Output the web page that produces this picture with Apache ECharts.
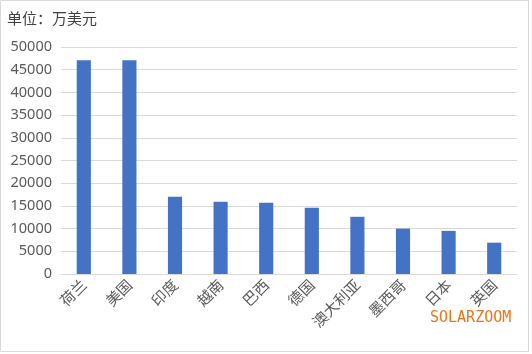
<!DOCTYPE html>
<html><head><meta charset="utf-8">
<script src="https://cdn.jsdelivr.net/npm/echarts@6/dist/echarts.min.js"></script>
<style>html,body{margin:0;padding:0;background:#fff}#c{width:532px;height:354px}</style>
</head><body><div id="c"></div>
<script>
const categories = ['荷兰','美国','印度','越南','巴西','德国','澳大利亚','墨西哥','日本','英国'];
const values = [47100, 47100, 17000, 15900, 15700, 14600, 12600, 10000, 9500, 6900];
const unitLabel = '单位：万美元';
const watermark = 'SOLARZOOM';

const chart = echarts.init(document.getElementById('c'), null, {renderer:'canvas'});
chart.setOption({
  animation:false,
  backgroundColor:'#fff',
  graphic:[
    {type:'rect', shape:{x:0.5,y:0.5,width:528,height:351}, style:{fill:'none',stroke:'#d9d9d9',lineWidth:1}},
    {type:'text', left:7, top:11, style:{text:unitLabel, fontSize:15, fill:'#404040', fontFamily:'Noto Sans CJK SC'}},
    {type:'text', left:430, top:311, style:{text:watermark, fontSize:15, fill:'#e8761c', fontFamily:'DejaVu Sans Mono'}}
  ],
  grid:{left:61, right:15, top:47, bottom:80, containLabel:false},
  xAxis:{type:'category', data:categories,
    axisLine:{lineStyle:{color:'#d9d9d9'}}, axisTick:{show:false},
    axisLabel:{rotate:45, fontSize:15, color:'#595959', margin:8, fontFamily:'Noto Sans CJK SC', interval:0}},
  yAxis:{type:'value', min:0, max:50000, interval:5000,
    axisLine:{show:false}, axisTick:{show:false},
    splitLine:{lineStyle:{color:'#d9d9d9'}},
    axisLabel:{fontSize:14.5, color:'#595959', margin:9, fontFamily:'Noto Sans', formatter:v=>String(v)}},
  series:[{type:'bar', data:values, barWidth:'31%', itemStyle:{color:'#4472c4'}}]
});
</script></body></html>
